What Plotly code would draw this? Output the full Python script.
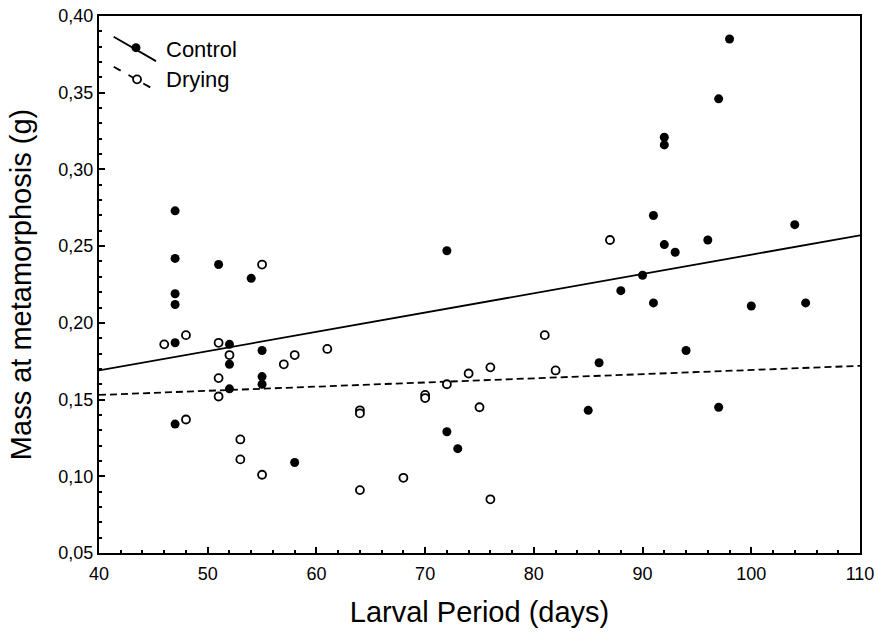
import plotly.graph_objects as go

# Control (filled circles)
control_days = [47, 47, 47, 47, 47, 47, 51, 52, 52, 52, 54, 55, 55, 55, 58,
                72, 72, 73, 85, 86, 88, 90, 91, 91, 92, 92, 92, 93, 94, 96,
                97, 97, 98, 100, 104, 105]
control_mass = [0.273, 0.242, 0.219, 0.212, 0.187, 0.134, 0.238, 0.186, 0.173, 0.157,
                0.229, 0.182, 0.165, 0.160, 0.109, 0.247, 0.129, 0.118, 0.143, 0.174,
                0.221, 0.231, 0.270, 0.213, 0.321, 0.316, 0.251, 0.246, 0.182, 0.254,
                0.346, 0.145, 0.385, 0.211, 0.264, 0.213]

# Drying (open circles)
drying_days = [46, 48, 48, 51, 51, 51, 52, 53, 53, 55, 55, 57, 58, 61, 64, 64, 64,
               68, 70, 70, 72, 74, 75, 76, 76, 81, 82, 87]
drying_mass = [0.186, 0.192, 0.137, 0.187, 0.164, 0.152, 0.179, 0.124, 0.111, 0.238,
               0.101, 0.173, 0.179, 0.183, 0.143, 0.141, 0.091, 0.099, 0.153, 0.151,
               0.160, 0.167, 0.145, 0.171, 0.085, 0.192, 0.169, 0.254]

# Regression line end points
fit_days = [40, 110]
control_fit = [0.169, 0.257]
drying_fit = [0.153, 0.172]

FONT = "Liberation Sans, Arial, sans-serif"

fig = go.Figure()

fig.add_trace(go.Scatter(x=fit_days, y=control_fit, mode="lines",
                         line=dict(color="black", width=1.8), showlegend=False))
fig.add_trace(go.Scatter(x=fit_days, y=drying_fit, mode="lines",
                         line=dict(color="black", width=1.8, dash="7px,4px"),
                         showlegend=False))
fig.add_trace(go.Scatter(x=control_days, y=control_mass, mode="markers",
                         marker=dict(color="black", size=9, line=dict(width=0)),
                         showlegend=False))
fig.add_trace(go.Scatter(x=drying_days, y=drying_mass, mode="markers",
                         marker=dict(color="white", size=8,
                                     line=dict(color="black", width=1.8)),
                         showlegend=False))

# Hand drawn legend with slanted line samples (paper coords)
fig.add_shape(type="line", xref="paper", yref="paper",
              x0=0.0193, y0=0.9615, x1=0.0749, y1=0.916,
              line=dict(color="black", width=1.8))
fig.add_shape(type="line", xref="paper", yref="paper",
              x0=0.0193, y0=0.9056, x1=0.0749, y1=0.861,
              line=dict(color="black", width=1.8, dash="8px,9px"))
fig.add_shape(type="circle", xref="paper", yref="paper",
              xsizemode="pixel", ysizemode="pixel",
              xanchor=0.0486, yanchor=0.941, x0=-4.5, x1=4.5, y0=-4.5, y1=4.5,
              fillcolor="black", line=dict(color="black", width=0))
fig.add_shape(type="circle", xref="paper", yref="paper",
              xsizemode="pixel", ysizemode="pixel",
              xanchor=0.05, yanchor=0.882, x0=-4, x1=4, y0=-4, y1=4,
              fillcolor="white", line=dict(color="black", width=1.8))
fig.add_annotation(x=0.086, y=0.9385, xref="paper", yref="paper", text="Control",
                   showarrow=False, xanchor="left", yanchor="middle",
                   font=dict(size=22, color="black", family=FONT))
fig.add_annotation(x=0.086, y=0.882, xref="paper", yref="paper", text="Drying",
                   showarrow=False, xanchor="left", yanchor="middle",
                   font=dict(size=22, color="black", family=FONT))

axis_common = dict(
    showgrid=False, zeroline=False, automargin=False, ticklabeloverflow="allow",
    showline=True, linecolor="black", linewidth=2, mirror=True,
    ticks="inside", ticklen=6, tickwidth=1.5, tickcolor="black",
    tickfont=dict(size=18, color="black", family=FONT),
)

fig.update_xaxes(
    range=[40, 110], dtick=10, tick0=40, ticklabelstandoff=3,
    minor=dict(dtick=2, ticks="inside", ticklen=3, tickwidth=1.5, tickcolor="black"),
    title=dict(text="Larval Period (days)", font=dict(size=29, color="black", family=FONT),
               standoff=19),
    **axis_common,
)
fig.update_yaxes(
    range=[0.05, 0.40], dtick=0.05, tick0=0.05, tickformat=".2f",
    minor=dict(dtick=0.01, ticks="inside", ticklen=3, tickwidth=1.5, tickcolor="black"),
    title=dict(text="Mass at metamorphosis (g)", font=dict(size=29, color="black", family=FONT),
               standoff=18),
    **axis_common,
)

fig.update_layout(
    width=878, height=632,
    margin=dict(l=99, r=18, t=16, b=79),
    plot_bgcolor="white", paper_bgcolor="white",
    separators=", ",
    font=dict(family=FONT, color="black"),
)

# drop the page's default body margin so the figure sits at the window corner
fig.write_html("out.html", config={"displayModeBar": False},
               post_script="document.body.style.margin='0';")
